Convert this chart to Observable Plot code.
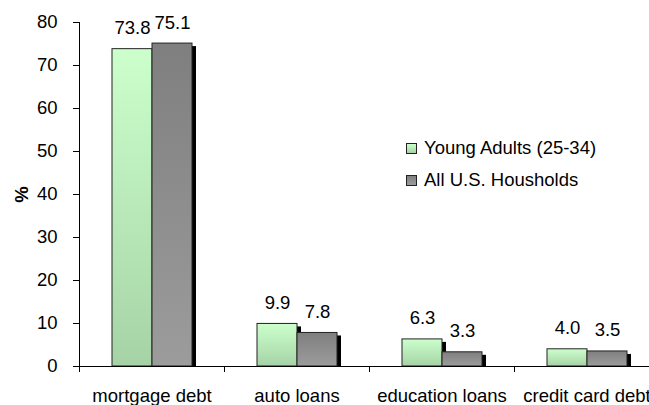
<!DOCTYPE html>
<html>
<head>
<meta charset="utf-8">
<script src="https://cdn.jsdelivr.net/npm/d3@7"></script>
<script src="https://cdn.jsdelivr.net/npm/@observablehq/plot@0.6"></script>
<style>
  html, body { margin: 0; padding: 0; background: #fff; overflow: hidden; }
  #wrap { position: relative; width: 649px; height: 405px; overflow: hidden; font-family: "Liberation Sans", Arial, sans-serif; }
  #legend { position: absolute; left: 406px; top: 132px; font-size: 18.5px; color: #000; line-height: 32px; }
  #legend .row { display: flex; align-items: center; white-space: nowrap; }
  #legend .sw { width: 9px; height: 9px; border: 1px solid #222; margin-right: 7px; }
</style>
</head>
<body>
<div id="wrap">
  <div id="chart"></div>
  <div id="legend"></div>
</div>
<script>
const categories = ["mortgage debt", "auto loans", "education loans", "credit card debt"];
const seriesNames = ["Young Adults (25-34)", "All U.S. Housholds"];
const youngAdults = [73.8, 9.9, 6.3, 4.0];
const allHouseholds = [75.1, 7.8, 3.3, 3.5];
const yTicks = [0, 10, 20, 30, 40, 50, 60, 70, 80];

const data = categories.flatMap((c, i) => [
  {category: c, series: seriesNames[0], value: youngAdults[i]},
  {category: c, series: seriesNames[1], value: allHouseholds[i]}
]);

const left = 79, plotRight = 659;
const step = (plotRight - left) / categories.length;
const fs = 18.5;

const chart = Plot.plot({
  width: 649,
  height: 405,
  marginTop: 22,
  marginBottom: 39,
  marginLeft: left,
  marginRight: 0,
  style: {fontFamily: '"Liberation Sans", Arial, sans-serif', fontSize: fs + "px", color: "#000", background: "#fff", overflow: "visible"},
  fx: {domain: categories, range: [left, plotRight], paddingInner: 0, paddingOuter: 0},
  x: {domain: seriesNames, paddingInner: 0, paddingOuter: 0.78, axis: null},
  y: {domain: [0, 80]},
  marks: [
    Plot.barY(data, {fx: "category", x: "series", y: "value", fill: "#000", dx: 4, dy: 3, insetBottom: 3}),
    Plot.barY(data.filter(d => d.series === seriesNames[0]), {fx: "category", x: "series", y: "value", fill: "url(#gradGreen)", stroke: "#222", strokeWidth: 1}),
    Plot.barY(data.filter(d => d.series === seriesNames[1]), {fx: "category", x: "series", y: "value", fill: "url(#gradGray)", stroke: "#222", strokeWidth: 1}),
    Plot.text(data, {fx: "category", x: "series", y: "value", text: d => d.value.toFixed(1), dy: -15, lineAnchor: "bottom", fontSize: fs, fill: "#000"}),
    Plot.ruleY([0], {stroke: "#000"}),
    Plot.frame({anchor: "left", facetAnchor: "left", stroke: "#000"}),
    Plot.axisY({ticks: yTicks, tickSize: 6, tickPadding: 16, fontSize: fs, label: "%", labelAnchor: "center", labelArrow: "none", labelOffset: 65, stroke: "#000"}),
    Plot.axisFx({anchor: "bottom", tickSize: 6, text: null, dx: -step / 2, label: null, stroke: "#000"}),
    Plot.axisFx({anchor: "bottom", tickSize: 0, tickPadding: 22, fontSize: fs, label: null})
  ]
});

const svg = d3.select(chart.tagName.toLowerCase() === "svg" ? chart : chart.querySelector("svg"));
const defs = svg.insert("defs", ":first-child");
const g1 = defs.append("linearGradient").attr("id", "gradGreen").attr("x1", 0).attr("y1", 0).attr("x2", 0).attr("y2", 1);
g1.append("stop").attr("offset", "0%").attr("stop-color", "#ccffcc");
g1.append("stop").attr("offset", "100%").attr("stop-color", "#a6d3a6");
const g2 = defs.append("linearGradient").attr("id", "gradGray").attr("x1", 0).attr("y1", 0).attr("x2", 0).attr("y2", 1);
g2.append("stop").attr("offset", "0%").attr("stop-color", "#7f7f7f");
g2.append("stop").attr("offset", "100%").attr("stop-color", "#9c9c9c");
svg.selectAll('g[aria-label="y-axis label"] text').style("font-weight", "bold");

document.getElementById("chart").appendChild(chart);

const legendFills = ["linear-gradient(#ccffcc, #a6d3a6)", "linear-gradient(#7f7f7f, #9c9c9c)"];
const legend = d3.select("#legend");
seriesNames.forEach((s, i) => {
  const row = legend.append("div").attr("class", "row");
  row.append("div").attr("class", "sw").style("background", legendFills[i]);
  row.append("span").text(s);
});
</script>
</body>
</html>
